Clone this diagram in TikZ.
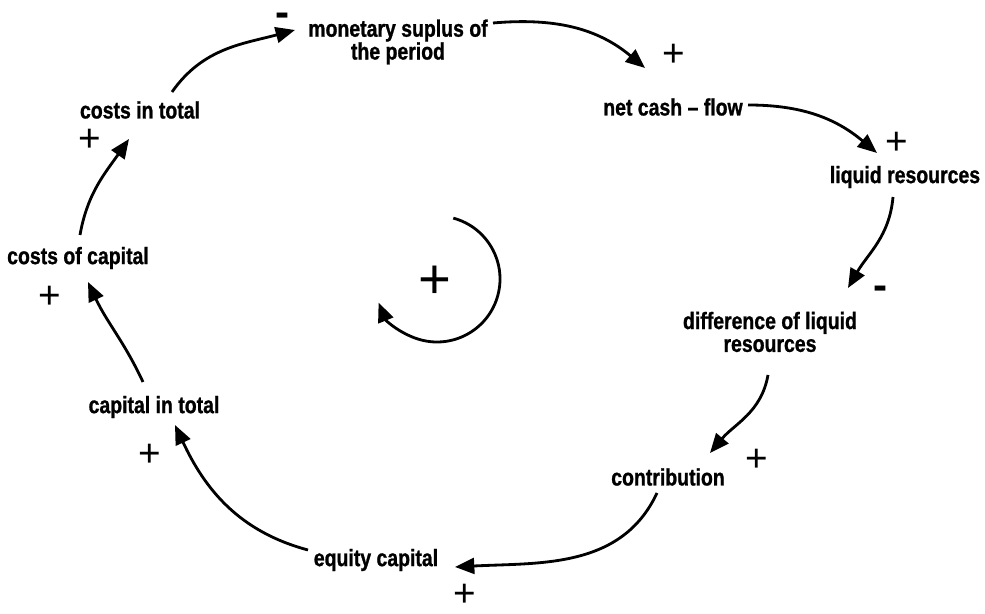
\documentclass[tikz,border=0pt]{standalone}
\usepackage{fontspec}
\usepackage{tikz}
\usetikzlibrary{arrows.meta, calc}
\newfontfamily\lblfont{Liberation Sans}[FakeStretch=0.82, FakeBold=1]
\newfontfamily\signfont{Liberation Sans}

\begin{document}
\begin{tikzpicture}[
    x=0.02cm, y=0.02cm,
    var/.style      = {inner sep=0pt, align=center,
                       font=\lblfont\bfseries\fontsize{13.5}{13}\selectfont},
    sign/.style     = {inner sep=0pt, font=\signfont\fontsize{22}{22}\selectfont},
    minus/.style    = {inner sep=0pt, text height=0.45em, text depth=0pt,
                       font=\signfont\bfseries\fontsize{24}{24}\selectfont},
    link/.style     = {-{Triangle[length=11pt, width=9pt]}, line width=1.6pt},
    loopsign/.style = {inner sep=0pt, font=\signfont\fontsize{32}{32}\selectfont}
]
\useasboundingbox (0,0) rectangle (985,614);

%% -- Variables ---------------------------------------------
\node[var] (surplus) at (398,572) {monetary suplus of\\the period};
\node[var] (cash)    at (673,507) {net cash – flow};
\node[var] (liquid)  at (905,437) {liquid resources};
\node[var] (diff)    at (770,282) {difference of liquid\\resources};
\node[var] (contrib) at (668,137) {contribution};
\node[var] (equity)  at (376,54)  {equity capital};
\node[var] (captot)  at (154,207) {capital in total};
\node[var] (costcap) at (78,356)  {costs of capital};
\node[var] (costtot) at (140,504) {costs in total};

%% -- Polarities --------------------------------------------
\node[minus] (s_surplus) at (283,591) {-};
\node[sign]  (s_cash)    at (674,559) {+};
\node[sign]  (s_liquid)  at (897,471) {+};
\node[minus] (s_diff)    at (881,318) {-};
\node[sign]  (s_contrib) at (757,154) {+};
\node[sign]  (s_equity)  at (465,19)  {+};
\node[sign]  (s_captot)  at (150,159) {+};
\node[sign]  (s_costcap) at (50,317)  {+};
\node[sign]  (s_costtot) at (90,474)  {+};

%% -- Causal links ------------------------------------------
\draw[link] ($(costtot)+(32,18)$)   to[out=55, in=195]  ($(surplus)+(-103,12)$);
\draw[link] ($(surplus)+(95,19)$)   to[out=5, in=140]   ($(cash)+(-28,39)$);
\draw[link] ($(cash)+(75,2)$)       to[out=0, in=140]   ($(liquid)+(-28,24)$);
\draw[link] ($(liquid)+(-12,-20)$)  to[out=-95, in=60]  ($(diff)+(78,44)$);
\draw[link] ($(diff)+(-2,-43)$)     to[out=-100, in=50] ($(contrib)+(42,24)$);
\draw[link] ($(contrib)+(-11,-16)$) to[out=-115, in=3]  ($(equity)+(79,-7)$);
\draw[link] ($(equity)+(-68,10)$)   to[out=165, in=-65] ($(captot)+(21,-18)$);
\draw[link] ($(captot)+(-11,25)$)   to[out=115, in=-65] ($(costcap)+(10,-24)$);
\draw[link] ($(costcap)+(2,23)$)    to[out=80, in=-125] ($(costtot)+(-11,-29)$);

%% -- Loop marker -------------------------------------------
\node[loopsign] (loop) at (435,332) {+};
\draw[link] ($(loop)+(2,3)$) ++(75:63) arc[start angle=75, end angle=-158, radius=63];

\end{tikzpicture}
\end{document}
